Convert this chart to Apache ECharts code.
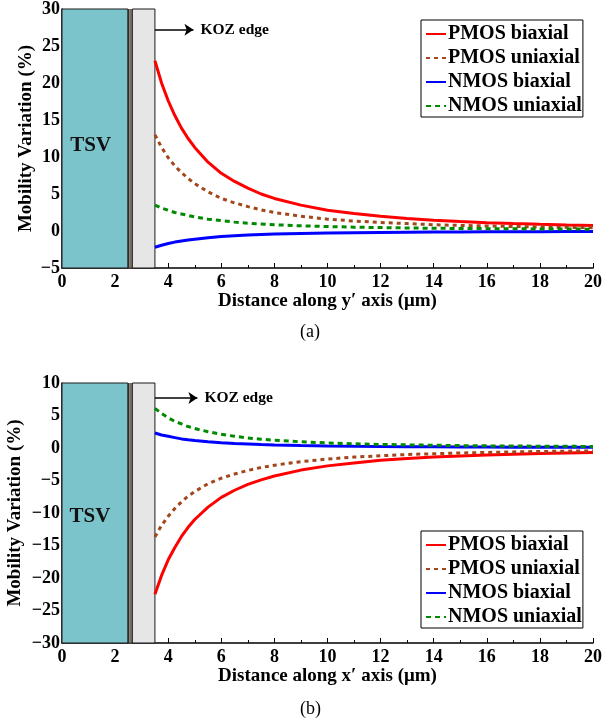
<!DOCTYPE html>
<html>
<head>
<meta charset="utf-8">
<script src="https://cdn.jsdelivr.net/npm/echarts@6/dist/echarts.min.js"></script>
<style>
  html, body { margin: 0; padding: 0; background: #fff; }
  #chart { width: 605px; height: 725px; }
</style>
</head>
<body>
<div id="chart"></div>
<script>
var xs = [3.5, 3.75, 4, 4.25, 4.5, 4.75, 5, 5.5, 6, 6.5, 7, 7.5, 8,
          9, 10, 11, 12, 13, 14, 15, 16, 17, 18, 19, 20];

// (a) along y' axis
var yPmosBi = [23, 20.0, 17.6, 15.6, 13.9, 12.5, 11.3, 9.3, 7.8, 6.7, 5.8, 5.0, 4.4,
               3.5, 2.8, 2.35, 2.0, 1.7, 1.45, 1.27, 1.12, 1.0, 0.9, 0.82, 0.75];
var yPmosUni = [13, 11.3, 9.9, 8.8, 7.9, 7.1, 6.4, 5.3, 4.4, 3.8, 3.3, 2.85, 2.5,
                2.0, 1.6, 1.35, 1.15, 1.0, 0.85, 0.75, 0.68, 0.61, 0.55, 0.5, 0.45];
var yNmosBi = [-2.2, -1.92, -1.7, -1.5, -1.35, -1.21, -1.1, -0.9, -0.75, -0.64, -0.55, -0.48, -0.42,
               -0.33, -0.27, -0.22, -0.19, -0.16, -0.14, -0.12, -0.11, -0.1, -0.09, -0.08, -0.07];
var yNmosUni = [3.5, 3.1, 2.8, 2.5, 2.3, 2.1, 1.9, 1.6, 1.4, 1.2, 1.05, 0.95, 0.85,
                0.7, 0.6, 0.52, 0.46, 0.41, 0.37, 0.34, 0.32, 0.3, 0.28, 0.26, 0.25];

// (b) along x' axis
var xPmosBi = [-22.5, -19.6, -17.2, -15.3, -13.6, -12.2, -11.0, -9.1, -7.6, -6.5, -5.6, -4.9, -4.3,
               -3.4, -2.75, -2.3, -1.9, -1.6, -1.4, -1.22, -1.08, -0.95, -0.85, -0.77, -0.7];
var xPmosUni = [-13.7, -11.9, -10.5, -9.3, -8.3, -7.4, -6.7, -5.5, -4.65, -4.0, -3.45, -3.0, -2.65,
                -2.1, -1.7, -1.4, -1.2, -1.0, -0.88, -0.77, -0.68, -0.6, -0.54, -0.49, -0.44];
var xNmosBi = [2.3, 2.0, 1.8, 1.6, 1.4, 1.27, 1.15, 0.95, 0.8, 0.68, 0.6, 0.52, 0.47,
               0.38, 0.32, 0.27, 0.23, 0.2, 0.18, 0.16, 0.15, 0.13, 0.12, 0.11, 0.1];
var xNmosUni = [6.1, 5.3, 4.65, 4.1, 3.7, 3.3, 3.0, 2.5, 2.1, 1.8, 1.55, 1.35, 1.2,
                0.95, 0.78, 0.65, 0.55, 0.48, 0.42, 0.37, 0.33, 0.3, 0.28, 0.26, 0.24];

var names = ['PMOS biaxial', 'PMOS uniaxial', 'NMOS biaxial', 'NMOS uniaxial'];
var yRangeA = [-5, 30];
var yRangeB = [-30, 10];

var FONT = 'Liberation Serif';
var chart = echarts.init(document.getElementById('chart'));

function pairs(vals) {
    return xs.map(function (x, i) { return [x, vals[i]]; });
}

function minus(v) {
    return String(v).replace('-', '\u2212');
}

function tsvArea(ymin, ymax) {
    var edge = { borderColor: '#1a1a1a', borderWidth: 1, opacity: 1 };
    return {
        silent: true,
        label: { show: false },
        data: [
            [{ xAxis: 0, yAxis: ymin, itemStyle: Object.assign({ color: '#7cc4cb' }, edge) }, { xAxis: 2.48, yAxis: ymax }],
            [{ xAxis: 2.48, yAxis: ymin, itemStyle: { color: '#2e2e2e', opacity: 1 } }, { xAxis: 2.54, yAxis: ymax }],
            [{ xAxis: 2.54, yAxis: ymin, itemStyle: { color: '#7b6b5b', opacity: 1 } }, { xAxis: 2.62, yAxis: ymax }],
            [{ xAxis: 2.62, yAxis: ymin, itemStyle: { color: '#2e2e2e', opacity: 1 } }, { xAxis: 2.65, yAxis: ymax }],
            [{ xAxis: 2.65, yAxis: ymin, itemStyle: Object.assign({ color: '#e6e6e6' }, edge) }, { xAxis: 3.5, yAxis: ymax }]
        ]
    };
}

function kozLine(y, x2) {
    return {
        silent: true,
        symbolSize: 9,
        lineStyle: { color: '#000', width: 1.5, type: 'solid' },
        label: {
            show: true, position: 'end', formatter: 'KOZ edge', distance: 7,
            fontFamily: FONT, fontWeight: 'bold', fontSize: 15.5, color: '#000'
        },
        data: [[{ coord: [3.5, y], symbol: 'none' }, { coord: [x2, y], symbol: 'arrow' }]]
    };
}

function tsvLabel(x, y) {
    return {
        silent: true,
        symbol: 'circle',
        symbolSize: 0,
        label: {
            show: true, position: 'inside', formatter: 'TSV',
            fontFamily: FONT, fontWeight: 'bold', fontSize: 21, color: '#111'
        },
        data: [{ coord: [x, y] }]
    };
}

var styles = [
    { color: '#ff0000', type: 'solid' },
    { color: '#a3461b', type: [4, 4] },
    { color: '#0000ff', type: 'solid' },
    { color: '#008a00', type: [5, 4] }
];

function makeSeries(idx, sets) {
    return sets.map(function (vals, i) {
        return {
            name: names[i],
            type: 'line',
            xAxisIndex: idx,
            yAxisIndex: idx,
            data: pairs(vals),
            symbol: 'none',
            color: styles[i].color,
            lineStyle: { color: styles[i].color, width: 3, type: styles[i].type },
            z: 3
        };
    });
}

var seriesA = makeSeries(0, [yPmosBi, yPmosUni, yNmosBi, yNmosUni]);
var seriesB = makeSeries(1, [xPmosBi, xPmosUni, xNmosBi, xNmosUni]);

seriesA.push({
    type: 'line', xAxisIndex: 0, yAxisIndex: 0, data: [], z: 1,
    markArea: tsvArea(yRangeA[0], yRangeA[1]),
    markLine: kozLine(27.2, 4.95),
    markPoint: tsvLabel(1.08, 11.5)
});
seriesB.push({
    type: 'line', xAxisIndex: 1, yAxisIndex: 1, data: [], z: 1,
    markArea: tsvArea(yRangeB[0], yRangeB[1]),
    markLine: kozLine(7.7, 5.1),
    markPoint: tsvLabel(1.05, -10.5)
});

function xAxis(idx, name) {
    return {
        type: 'value', gridIndex: idx, min: 0, max: 20, interval: 2,
        name: name, nameLocation: 'middle', nameGap: 20,
        nameTextStyle: { fontFamily: FONT, fontWeight: 'bold', fontSize: 19, color: '#000' },
        axisLine: { show: true, onZero: false, lineStyle: { color: '#000', width: 1.5 } },
        axisTick: { show: true, inside: true, length: 5, lineStyle: { color: '#000' } },
        minorTick: { show: true, splitNumber: 2, length: 3, lineStyle: { color: '#000' } },
        splitLine: { show: false },
        axisLabel: { margin: 5, fontFamily: FONT, fontWeight: 'bold', fontSize: 18, color: '#000' }
    };
}

function yAxis(idx, range, gap) {
    return {
        type: 'value', gridIndex: idx, min: range[0], max: range[1], interval: 5,
        name: 'Mobility Variation (%)', nameLocation: 'middle', nameGap: gap,
        nameMoveOverlap: false,
        nameTextStyle: { fontFamily: FONT, fontWeight: 'bold', fontSize: 19, color: '#000' },
        axisLine: { show: true, onZero: false, lineStyle: { color: '#000', width: 1.5 } },
        axisTick: { show: false },
        splitLine: { show: false },
        axisLabel: { margin: 2, fontFamily: FONT, fontWeight: 'bold', fontSize: 18, color: '#000', formatter: minus }
    };
}

function legend(top) {
    return {
        data: names, orient: 'vertical', left: 421, top: top,
        backgroundColor: '#fff', borderColor: '#000', borderWidth: 1,
        padding: [3, 1, 0, 4], itemGap: 2, itemWidth: 20, itemHeight: 14,
        itemStyle: { opacity: 0 },
        textStyle: { fontFamily: FONT, fontWeight: 'bold', fontSize: 20, lineHeight: 22, color: '#000', padding: [0, 0, 0, -3] },
        selectedMode: false
    };
}

var option = {
    animation: false,
    backgroundColor: '#fff',
    grid: [
        { left: 62, right: 12, top: 9, bottom: 457, outerBoundsMode: 'none' },
        { left: 62, right: 12, top: 383, bottom: 82, outerBoundsMode: 'none' }
    ],
    xAxis: [
        xAxis(0, 'Distance along y\u2032 axis (\u03bcm)'),
        xAxis(1, 'Distance along x\u2032 axis (\u03bcm)')
    ],
    yAxis: [yAxis(0, yRangeA, 26), yAxis(1, yRangeB, 37)],
    legend: [legend(20), legend(531)],
    graphic: [
        { type: 'text', left: 300, top: 323, style: { text: '(a)', font: '18px "Liberation Serif"', fill: '#000' } },
        { type: 'text', left: 300, top: 700, style: { text: '(b)', font: '18px "Liberation Serif"', fill: '#000' } }
    ],
    series: seriesA.concat(seriesB)
};

chart.setOption(option);
</script>
</body>
</html>
